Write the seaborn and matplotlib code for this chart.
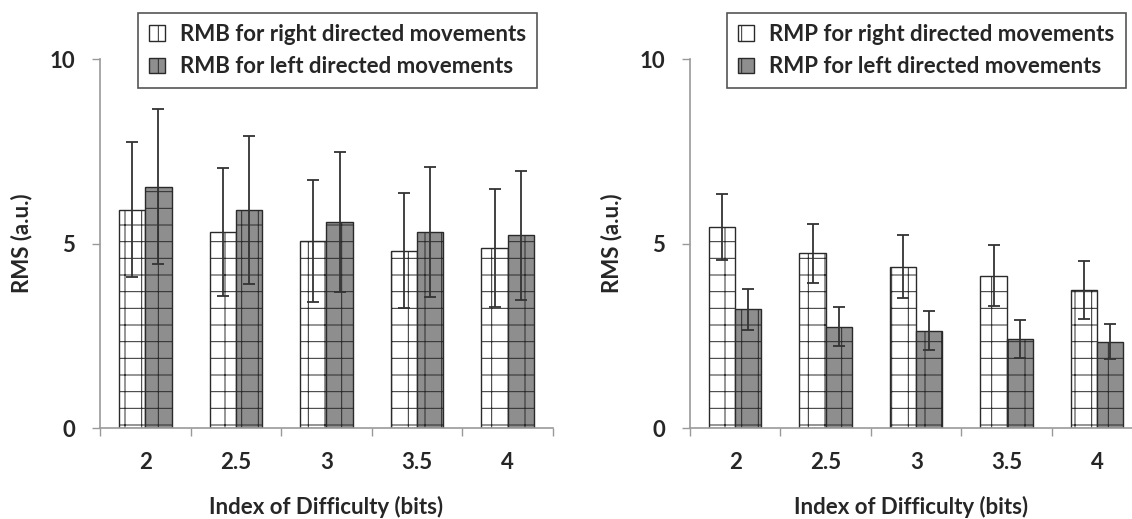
import numpy as np
import pandas as pd
import matplotlib
matplotlib.use("Agg")
import matplotlib.pyplot as plt
import seaborn as sns
from matplotlib.ticker import FixedLocator

# index of difficulty (bits)
difficulty = ["2", "2.5", "3", "3.5", "4"]

# RMB panel
rmb_right_mean = [5.91, 5.32, 5.07, 4.80, 4.87]
rmb_right_sd = [1.83, 1.73, 1.66, 1.56, 1.60]
rmb_left_mean = [6.54, 5.91, 5.58, 5.32, 5.22]
rmb_left_sd = [2.10, 2.00, 1.90, 1.76, 1.74]

# RMP panel
rmp_right_mean = [5.45, 4.73, 4.37, 4.13, 3.74]
rmp_right_sd = [0.89, 0.80, 0.85, 0.83, 0.78]
rmp_left_mean = [3.22, 2.75, 2.64, 2.42, 2.34]
rmp_left_sd = [0.56, 0.52, 0.53, 0.51, 0.48]

sns.set_theme(style="white")
plt.rcParams["font.family"] = ["Lato", "DejaVu Sans"]
plt.rcParams["font.weight"] = "bold"
plt.rcParams["hatch.linewidth"] = 0.7
plt.rcParams["hatch.color"] = "#444444"

FS = 16

fig = plt.figure(figsize=(11.32, 5.19), dpi=100)
ax_l = fig.add_axes([0.0883, 0.1753, 0.4002, 0.711])
ax_r = fig.add_axes([0.6095, 0.1753, 0.3905, 0.711])


def draw_panel(ax, prefix, right_mean, right_sd, left_mean, left_sd, xmax, leg_x):
    lab_r = f"{prefix} for right directed movements"
    lab_l = f"{prefix} for left directed movements"
    df = pd.DataFrame({
        "ID": difficulty * 2,
        "RMS": right_mean + left_mean,
        "sd": right_sd + left_sd,
        "dir": [lab_r] * 5 + [lab_l] * 5,
    })
    sns.barplot(data=df, x="ID", y="RMS", hue="dir", order=difficulty,
                hue_order=[lab_r, lab_l], palette=["white", "#8e8e8e"],
                width=0.58, gap=0, errorbar=None, edgecolor="#2a2a2a",
                linewidth=1.0, ax=ax)
    bars = [p for p in ax.patches if p.get_height() > 0][:10]
    for p in bars:
        p.set_hatch("+")
    centers = [p.get_x() + p.get_width() / 2 for p in bars]
    heights = [p.get_height() for p in bars]
    ax.errorbar(centers, heights, yerr=df["sd"].values, fmt="none",
                ecolor="#333333", elinewidth=1.3, capsize=4.5, capthick=1.3)

    ax.set_ylim(0, 10)
    ax.set_xlim(-0.5, xmax)
    ax.set_yticks([0, 5, 10])
    ax.set_yticklabels(["0", "5", "10"], fontsize=FS, fontweight="bold")
    ax.set_xticklabels(difficulty, fontsize=FS, fontweight="bold")
    ax.xaxis.set_minor_locator(FixedLocator(np.arange(-0.5, 5.0, 1.0)))
    ax.tick_params(axis="x", which="major", length=0, pad=17)
    ax.tick_params(axis="x", which="minor", length=6, width=1, color="#999999",
                   direction="out", bottom=True)
    ax.tick_params(axis="y", length=6, width=1, color="#999999", direction="out",
                   left=True, pad=12)
    for s in ["top", "right"]:
        ax.spines[s].set_visible(False)
    for s in ["left", "bottom"]:
        ax.spines[s].set_color("#999999")
        ax.spines[s].set_linewidth(1.2)
    ax.set_ylabel("RMS (a.u.)", fontsize=FS, fontweight="bold", labelpad=12)
    ax.set_xlabel("Index of Difficulty (bits)", fontsize=FS, fontweight="bold",
                  labelpad=17)

    handles, labels = ax.get_legend_handles_labels()
    for h in handles:
        h.set_hatch("+")
    leg = ax.legend(handles, labels, loc="upper left", bbox_to_anchor=(leg_x, 1.125),
                    frameon=True, fancybox=False, framealpha=1,
                    edgecolor="#555555", handlelength=0.7, handleheight=0.7,
                    handletextpad=0.7, labelspacing=0.5, borderpad=0.5,
                    borderaxespad=0, prop={"weight": "bold", "size": FS})
    leg.get_frame().set_linewidth(1.2)


draw_panel(ax_l, "RMB", rmb_right_mean, rmb_right_sd, rmb_left_mean, rmb_left_sd,
           4.5, 0.084)
draw_panel(ax_r, "RMP", rmp_right_mean, rmp_right_sd, rmp_left_mean, rmp_left_sd,
           4.384, 0.084)

fig.savefig("out.png", dpi=100)
